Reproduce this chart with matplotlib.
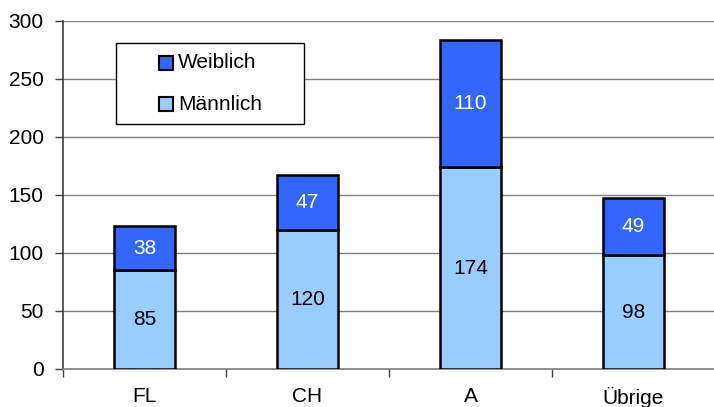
import matplotlib
matplotlib.use("Agg")
import matplotlib.pyplot as plt
from matplotlib.patches import Rectangle
import numpy as np

categories = ["FL", "CH", "A", "Übrige"]
maennlich = [85, 120, 174, 98]
weiblich = [38, 47, 110, 49]
yticks = [0, 50, 100, 150, 200, 250, 300]

plt.rcParams['font.family'] = ['Liberation Sans', 'DejaVu Sans']
FS = 15

W, H = 714, 407
fig = plt.figure(figsize=(W / 100, H / 100), dpi=100)
ax = fig.add_axes([63 / W, (H - 369) / H, 652 / W, 348 / H])

x = np.arange(len(categories))
bw = 0.375
c_w = "#3366FF"
c_m = "#99CCFF"
b1 = ax.bar(x, maennlich, bw, color=c_m, edgecolor="black", linewidth=1.8, zorder=3)
b2 = ax.bar(x, weiblich, bw, bottom=maennlich, color=c_w, edgecolor="black", linewidth=1.8, zorder=3)

for i in range(len(categories)):
    ax.text(x[i], maennlich[i] / 2, str(maennlich[i]), ha="center", va="center",
            fontsize=FS, color="black", zorder=4)
    ax.text(x[i], maennlich[i] + weiblich[i] / 2, str(weiblich[i]), ha="center", va="center",
            fontsize=FS, color="white", zorder=4)

ax.set_xlim(-0.5, len(categories) - 0.5)
ax.set_ylim(0, 300)
ax.set_yticks(yticks)
ax.set_yticklabels([str(v) for v in yticks], fontsize=FS)
ax.yaxis.grid(True, color="#808080", linewidth=1.0, zorder=0)
ax.set_axisbelow(True)

ax.set_xticks(np.arange(len(categories) + 1) - 0.5)
ax.set_xticklabels([])
ax.set_xticks(x, minor=True)
ax.set_xticklabels(categories, minor=True, fontsize=FS)
ax.tick_params(axis="x", which="major", length=6, width=1, color="#404040", direction="out")
ax.tick_params(axis="x", which="minor", length=0, pad=13)
ax.tick_params(axis="y", length=6, width=1, color="#404040", direction="out", pad=8)

for s in ["top", "right"]:
    ax.spines[s].set_visible(False)
ax.spines["left"].set_color("#404040")
ax.spines["left"].set_linewidth(1.2)
ax.spines["bottom"].set_color("#808080")
ax.spines["bottom"].set_linewidth(1.2)

# legend box
def fx(px):
    return px / W

def fy(py):
    return (H - py) / H

fig.patches.append(Rectangle((fx(116), fy(124)), (304 - 116) / W, (124 - 43) / H,
                             transform=fig.transFigure, facecolor="white",
                             edgecolor="black", linewidth=1.0, zorder=5))
for lab, col, yc in [("Weiblich", c_w, 63), ("Männlich", c_m, 104)]:
    fig.patches.append(Rectangle((fx(159), fy(yc + 7)), 14 / W, 14 / H,
                                 transform=fig.transFigure, facecolor=col,
                                 edgecolor="black", linewidth=1.5, zorder=6))
    fig.text(fx(178), fy(yc), lab, fontsize=FS, ha="left", va="center", zorder=7)

fig.savefig("out.png", dpi=100)
